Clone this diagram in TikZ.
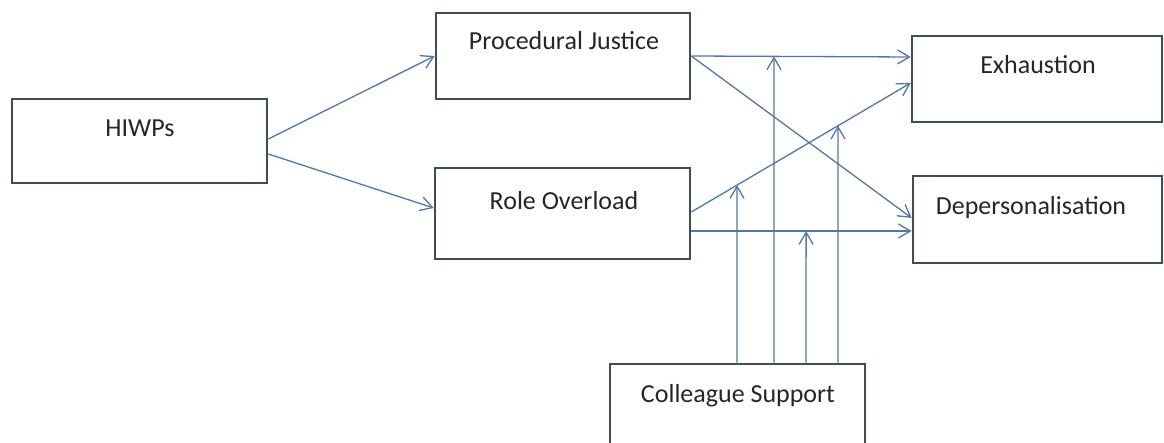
\documentclass[tikz,border=0pt]{standalone}
\usepackage{fontspec}
\setmainfont{Carlito}
\usetikzlibrary{arrows.meta,calc}
\definecolor{boxcol}{RGB}{62,76,94}
\definecolor{linecol}{RGB}{84,118,165}
\definecolor{txtcol}{RGB}{38,38,38}
\begin{document}
\begin{tikzpicture}[x=1pt,y=-1pt,
  boxnode/.style={draw=boxcol,line width=2.6pt,fill=white,inner sep=0pt,rectangle},
  lbl/.style={anchor=base,inner sep=0pt,text=txtcol,font=\fontsize{26}{30}\selectfont},
  conn/.style={draw=linecol,line width=1.3pt,-{Straight Barb[length=12pt,width=14pt]}},
  ]
\useasboundingbox (0,0) rectangle (1164,443);
\clip (0,0) rectangle (1164,443);
% boxes
\node[boxnode,minimum width=255pt,minimum height=84pt] (hiwps) at (139.5,141) {};
\node[boxnode,minimum width=254pt,minimum height=86pt] (pj) at (563,56) {};
\node[boxnode,minimum width=255pt,minimum height=91pt] (ro) at (562.5,213.5) {};
\node[boxnode,minimum width=250pt,minimum height=86pt] (ex) at (1037,79) {};
\node[boxnode,minimum width=249pt,minimum height=87pt] (dep) at (1037.5,219.5) {};
\node[boxnode,minimum width=255pt,minimum height=90pt] (cs) at (737.5,409) {};
% texts
\node[lbl] (hiwpst) at (140,137) {HIWPs};
\node[lbl] (pjt) at (564,50) {Procedural Justice};
\node[lbl] (rot) at (564,210) {Role Overload};
\node[lbl] (ext) at (1038,74) {Exhaustion};
\node[lbl] (dept) at (1031,215) {Depersonalisation};
\node[lbl] (cst) at (738,402) {Colleague Support};
% connector end points
\coordinate (h1s) at ($(hiwps.east)+(0,-2)$);
\coordinate (h2s) at ($(hiwps.east)+(0,13)$);
\coordinate (h2e) at ($(ro.west)+(0,-5.5)$);
\coordinate (p1s) at (pj.east);
\coordinate (p1e) at ($(ex.west)+(0,-22)$);
\coordinate (p2e) at ($(dep.west)+(0,-1.5)$);
\coordinate (r1s) at ($(ro.east)+(0,-1.5)$);
\coordinate (r1e) at ($(ex.west)+(0,4)$);
\coordinate (r2s) at ($(ro.east)+(0,17.5)$);
\coordinate (r2e) at ($(dep.west)+(0,11.5)$);
% main paths
\draw[conn] (h1s) -- (pj.west);
\draw[conn] (h2s) -- (h2e);
\draw[conn] (p1s) -- (p1e);
\draw[conn] (p1s) -- (p2e);
\draw[conn] (r1s) -- (r1e);
\draw[conn] (r2s) -- (r2e);
% moderator arrows
\coordinate (m1s) at ($(cs.north)+(-0.5,0)$);
\coordinate (m2s) at ($(cs.north)+(36.5,0)$);
\coordinate (m3s) at ($(cs.north)+(68.5,0)$);
\coordinate (m4s) at ($(cs.north)+(100.5,0)$);
\coordinate (m1u) at ($(m1s)+(0,-400)$);
\coordinate (m2u) at ($(m2s)+(0,-400)$);
\coordinate (m3u) at ($(m3s)+(0,-400)$);
\coordinate (m4u) at ($(m4s)+(0,-400)$);
\coordinate (m1e) at (intersection of r1s--r1e and m1s--m1u);
\coordinate (m2e) at (intersection of p1s--p1e and m2s--m2u);
\coordinate (m3e) at (intersection of r2s--r2e and m3s--m3u);
\coordinate (m4e) at (intersection of r1s--r1e and m4s--m4u);
\draw[conn] (m1s) -- (m1e);
\draw[conn] (m2s) -- (m2e);
\draw[conn] (m3s) -- (m3e);
\draw[conn] (m4s) -- (m4e);
\end{tikzpicture}
\end{document}
